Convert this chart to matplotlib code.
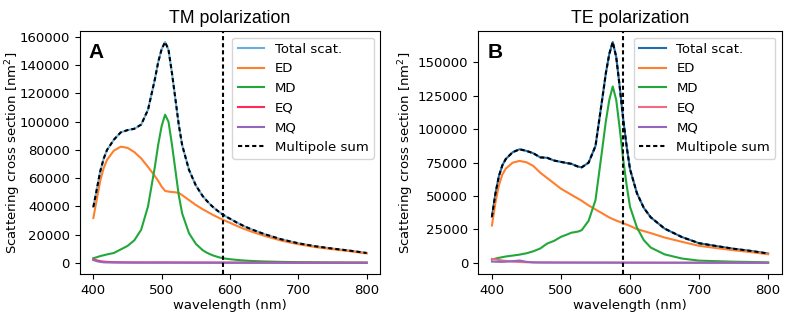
import numpy as np
import matplotlib
matplotlib.use("Agg")
import matplotlib.pyplot as plt

# wavelength grid (nm), shared by both panels
wl = [400, 405, 410, 415, 420, 430, 440, 450, 460, 470, 480, 490, 495, 500, 505,
      510, 515, 520, 525, 530, 540, 550, 560, 565, 570, 575, 580, 585, 590, 595,
      600, 610, 620, 630, 650, 675, 700, 725, 750, 775, 800]

# --- TM polarization (panel A) ---
tm_total = [39600, 52000, 64700, 73700, 80000, 87250, 92420, 94050, 95010, 97980,
            108470, 129960, 142460, 151460, 156460, 150960, 134630, 116420, 97910,
            83400, 65880, 54860, 47340, 44535, 41930, 39615, 37610, 35705, 34090,
            32585, 31280, 28560, 26150, 24030, 20410, 16690, 13870, 11755, 10140,
            8675, 7010]
tm_ed = [31800, 45000, 58000, 67000, 73000, 79500, 82300, 81500, 78500, 74000,
         68000, 61500, 58000, 54000, 51000, 50500, 50200, 50000, 49500, 48000,
         44500, 41000, 38000, 36700, 35300, 34000, 32800, 31600, 30500, 29400,
         28400, 26200, 24200, 22400, 19200, 15800, 13200, 11200, 9700, 8300, 6700]
tm_md = [3300, 4000, 4800, 5400, 6000, 7000, 9500, 12000, 16000, 23500, 40000,
         68000, 84000, 97000, 105000, 100000, 84000, 66000, 48000, 35000, 21000,
         13500, 9000, 7500, 6300, 5300, 4500, 3800, 3300, 2900, 2600, 2100, 1700,
         1400, 1000, 700, 500, 400, 300, 250, 200]
tm_eq = [2500, 1800, 1200, 900, 700, 500, 400, 350, 320, 300, 300, 300, 300, 300,
         300, 300, 280, 270, 260, 250, 240, 230, 220, 215, 210, 205, 200, 195, 190,
         185, 180, 170, 160, 150, 140, 130, 120, 110, 100, 90, 80]
tm_mq = [2000, 1200, 700, 400, 300, 250, 220, 200, 190, 180, 170, 160, 160, 160,
         160, 160, 150, 150, 150, 150, 140, 130, 120, 120, 120, 110, 110, 110, 100,
         100, 100, 90, 90, 80, 70, 60, 50, 45, 40, 35, 30]

# --- TE polarization (panel B) ---
te_total = [34500, 51700, 64800, 72900, 77700, 82800, 85000, 83800, 82000, 78950,
            78620, 76590, 76070, 75560, 75050, 74540, 74130, 73020, 72010, 71500,
            74980, 87490, 123470, 141960, 156450, 165240, 154130, 132120, 108110,
            87600, 70090, 52170, 41150, 34130, 25700, 19370, 14740, 12610, 10590,
            8970, 7050]
te_ed = [28000, 45000, 58000, 66000, 70500, 75000, 76300, 75300, 72500, 67500,
         63500, 59500, 57500, 55500, 54000, 52500, 51000, 49500, 48000, 46500,
         43000, 40000, 37000, 35500, 34000, 32800, 31700, 30700, 29700, 28700,
         27700, 25300, 23800, 22300, 19000, 15800, 12800, 11100, 9500, 8100, 6500]
te_md = [2500, 3200, 3800, 4300, 4800, 5500, 6200, 7200, 8700, 10800, 14500,
         16500, 18000, 19500, 20500, 21500, 22600, 23000, 23500, 24500, 31500,
         47000, 86000, 106000, 122000, 132000, 122000, 101000, 78000, 58500, 42000,
         26500, 17000, 11500, 6400, 3300, 1700, 1300, 900, 700, 400]
te_eq = [3000, 2600, 2200, 1800, 1500, 1000, 700, 500, 400, 350, 340, 330, 320,
         310, 300, 290, 280, 270, 260, 250, 240, 230, 220, 215, 210, 205, 200, 195,
         190, 185, 180, 170, 160, 150, 140, 130, 120, 110, 100, 90, 80]
te_mq = [1000, 900, 800, 800, 900, 1300, 1800, 800, 400, 300, 280, 260, 250, 250,
         250, 250, 250, 250, 250, 250, 240, 230, 220, 220, 220, 220, 210, 210, 200,
         200, 200, 190, 180, 170, 160, 140, 120, 100, 90, 70, 60]

marker_wl = 590

fig = plt.figure(figsize=(7.89, 3.13), dpi=100)
axA = fig.add_axes([0.101, 0.125, 0.381, 0.776])
axB = fig.add_axes([0.606, 0.125, 0.385, 0.776])

panels = [
    (axA, "TM polarization", "A", tm_total, tm_ed, tm_md, tm_eq, tm_mq, "#6aafdc", "#ff2a55", -0.19),
    (axB, "TE polarization", "B", te_total, te_ed, te_md, te_eq, te_mq, "#1f6fb0", "#f06a84", -0.205),
]

for ax, title, letter, tot, ed, md, eq, mq, c_tot, c_eq, ylab_x in panels:
    msum = np.array(ed) + np.array(md) + np.array(eq) + np.array(mq)
    ax.plot(wl, tot, c=c_tot, lw=1.5, label="Total scat.")
    ax.plot(wl, ed, c="#ff7f2e", lw=1.5, label="ED")
    ax.plot(wl, md, c="#22a83a", lw=1.5, label="MD")
    ax.plot(wl, eq, c=c_eq, lw=1.5, label="EQ")
    ax.plot(wl, mq, c="#9467bd", lw=1.5, label="MQ")
    ax.plot(wl, msum, c="k", lw=1.5, ls=(0, (2.0, 1.4)), label="Multipole sum")
    ax.axvline(marker_wl, c="k", lw=1.5, ls=(0, (2.0, 1.4)))
    ax.set_title(title, fontsize=12.8, family="Liberation Sans")
    ax.set_xlabel("wavelength (nm)", fontsize=9.5, labelpad=2)
    ax.set_ylabel("Scattering cross section [nm$^2$]", fontsize=9.5)
    ax.yaxis.set_label_coords(ylab_x, 0.5)
    ax.set_xticks([400, 500, 600, 700, 800])
    ax.tick_params(labelsize=9.5)
    ax.text(0.03, 0.95, letter, transform=ax.transAxes, fontsize=15,
            fontweight="bold", family="Liberation Sans", va="top", ha="left")
    ax.legend(loc="upper right", fontsize=9.5)

axB.set_yticks([0, 25000, 50000, 75000, 100000, 125000, 150000])

fig.savefig("out.png", dpi=100)
